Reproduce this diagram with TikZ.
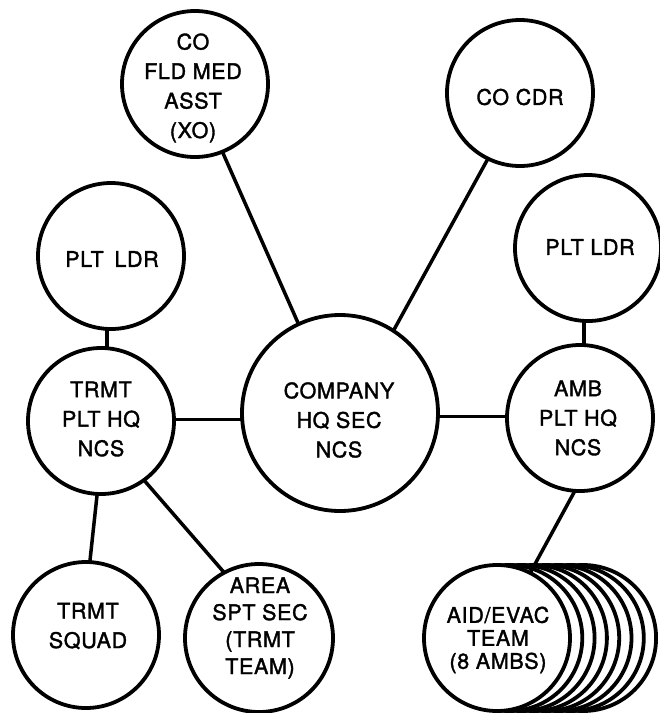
\documentclass[tikz,border=0pt]{standalone}
\usepackage{fontspec}
\setmainfont{TeX Gyre Heros}[RawFeature={embolden=1.6},LetterSpace=3]
\begin{document}
\begin{tikzpicture}[x=1pt,y=-1pt,
  ring/.style={circle,draw,line width=3.8pt,fill=white,inner sep=0pt,outer sep=0pt,minimum size=#1},
  lbl/.style={align=center,inner sep=0pt,font=\fontsize{21.5}{29.5}\selectfont},
  link/.style={line width=3.5pt}]
\useasboundingbox (0,0) rectangle (660,713);

% circles
\node[ring=146] (xo) at (195,84) {};
\node[ring=146] (cdr) at (520,93) {};
\node[ring=146] (pltl) at (111,256) {};
\node[ring=146] (pltr) at (588,248) {};
\node[ring=196] (company) at (340,413) {};
\node[ring=146] (trmt) at (101,421) {};
\node[ring=146] (amb) at (580,418) {};
\node[ring=146] (squad) at (86,635) {};
\node[ring=148] (area) at (259,638) {};
\foreach \i in {7,6,...,1}
  \node[ring=146] (aid\i) at ({497+12.3*\i},638) {};
\node[ring=146] (aid) at (497,638) {};

% connectors
\draw[link] (xo.-68.5) -- (company.115);
\draw[link] (cdr.-116.6) -- (company.57);
\draw[link] (pltl.-93) -- (pltl.-93 |- trmt.north);
\draw[link] (trmt.1.5) -- (trmt.1.5 -| company.west);
\draw[link] (company.-2.3) -- (company.-2.3 -| amb.west);
\draw[link] (pltr.-93) -- (pltr.-93 |- amb.north);
\draw[link] (trmt.-93) -- (squad.87);
\draw[link] (trmt.-54.6) -- (area.118.8);
\draw[link] (amb.-94) -- (aid.63.7);

% labels
\node[lbl] (txo) at (193,88) {CO\\FLD MED\\ASST\\(XO)};
\node[lbl] (tcdr) at (520,97) {CO CDR};
\node[lbl] (tpltl) at (112,259) {PLT\enspace LDR};
\node[lbl] (tpltr) at (590,247) {PLT LDR};
\node[lbl] (tcompany) at (339,420) {COMPANY\\HQ SEC\\NCS};
\node[lbl] (ttrmt) at (101,419) {TRMT\\PLT HQ\\NCS};
\node[lbl] (tamb) at (578,418) {AMB\\PLT HQ\\NCS};
\node[lbl] (tsquad) at (88,626) {TRMT\\SQUAD};
\node[lbl,font=\fontsize{21.5}{27}\selectfont] (tarea) at (260,628) {AREA\\SPT SEC\\(TRMT\\TEAM)};
\node[lbl,font=\fontsize{21.5}{23}\selectfont] (taid) at (498,640) {AID/EVAC\\TEAM\\(8 AMBS)};
\end{tikzpicture}
\end{document}
